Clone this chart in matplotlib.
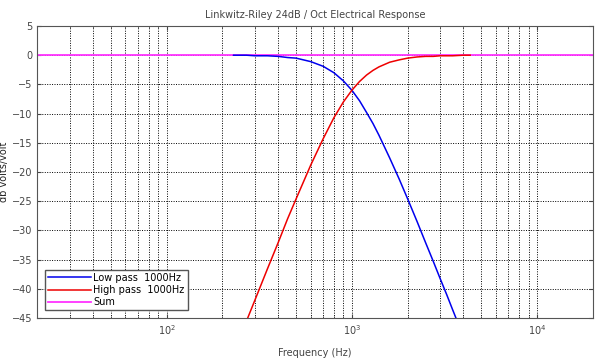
import numpy as np
import matplotlib.pyplot as plt
from matplotlib.ticker import LogLocator, NullFormatter, MultipleLocator

# frequencies (Hz) and responses (dB)
freq = [230, 250, 270, 300, 350, 400, 450, 500, 600, 700, 800, 900, 1000,
        1100, 1200, 1300, 1400, 1600, 1800, 2000, 2250, 2500, 2750, 3000,
        3250, 3500, 4000, 4350]
low_pass = [0.0, 0.0, 0.0, -0.1, -0.1, -0.2, -0.4, -0.5, -1.1, -1.9, -3.0,
            -4.4, -6.0, -7.8, -9.8, -11.7, -13.7, -17.6, -21.2, -24.6, -28.5,
            -32.1, -35.3, -38.3, -41.0, -43.6, -48.2, -51.1]
high_pass = [-51.1, -48.2, -45.5, -41.9, -36.6, -32.1, -28.0, -24.6, -18.8,
             -14.3, -10.7, -8.0, -6.0, -4.5, -3.4, -2.6, -2.0, -1.2, -0.8,
             -0.5, -0.3, -0.2, -0.2, -0.1, -0.1, -0.1, 0.0, 0.0]
sum_freq = [20, 20000]
sum_db = [0, 0]

fig = plt.figure(figsize=(6, 3.59), dpi=100)
ax = fig.add_axes([0.0617, 0.114, 0.9266, 0.8136])

# sum first so the filter curves sit on top of it
s, = ax.semilogx(sum_freq, sum_db, color='#ff33ff', lw=1.3, label='Sum')
lp, = ax.semilogx(freq, low_pass, color='#0000ee', lw=1.1, label='Low pass  1000Hz')
hp, = ax.semilogx(freq, high_pass, color='#ee0000', lw=1.1, label='High pass  1000Hz')

ax.set_xlim(20, 20000)
ax.set_ylim(-45, 5)
ax.yaxis.set_major_locator(MultipleLocator(5))
ax.xaxis.set_major_locator(LogLocator(base=10))
ax.xaxis.set_minor_locator(LogLocator(base=10, subs=np.arange(2, 10)))
ax.xaxis.set_minor_formatter(NullFormatter())

ax.grid(True, which='both', axis='x', color='black', ls=(0, (1, 1.5)), lw=0.7)
ax.grid(True, which='major', axis='y', color='black', ls=(0, (1, 1.5)), lw=0.7)

ax.tick_params(which='both', direction='in', labelsize=7, colors='#444444',
               top=True, right=True)
ax.tick_params(which='major', length=3)
ax.tick_params(which='minor', length=1.5)
for sp in ax.spines.values():
    sp.set_color('#555555')
    sp.set_linewidth(0.8)

ax.set_title('Linkwitz-Riley 24dB / Oct Electrical Response', fontsize=7,
             color='#444444', pad=6)
ax.set_xlabel('Frequency (Hz)', fontsize=7, color='#444444', labelpad=8)
ax.set_ylabel('db volts/volt', fontsize=7, color='#222222', labelpad=2)

leg = ax.legend([lp, hp, s], [lp.get_label(), hp.get_label(), s.get_label()],
                loc='lower left', fontsize=7, fancybox=False, framealpha=1,
                edgecolor='#555555', handlelength=4.5, handletextpad=0.2,
                borderpad=0.3, labelspacing=0.25, borderaxespad=0.8)
leg.get_frame().set_linewidth(1.0)

plt.savefig('out.png', dpi=100)
